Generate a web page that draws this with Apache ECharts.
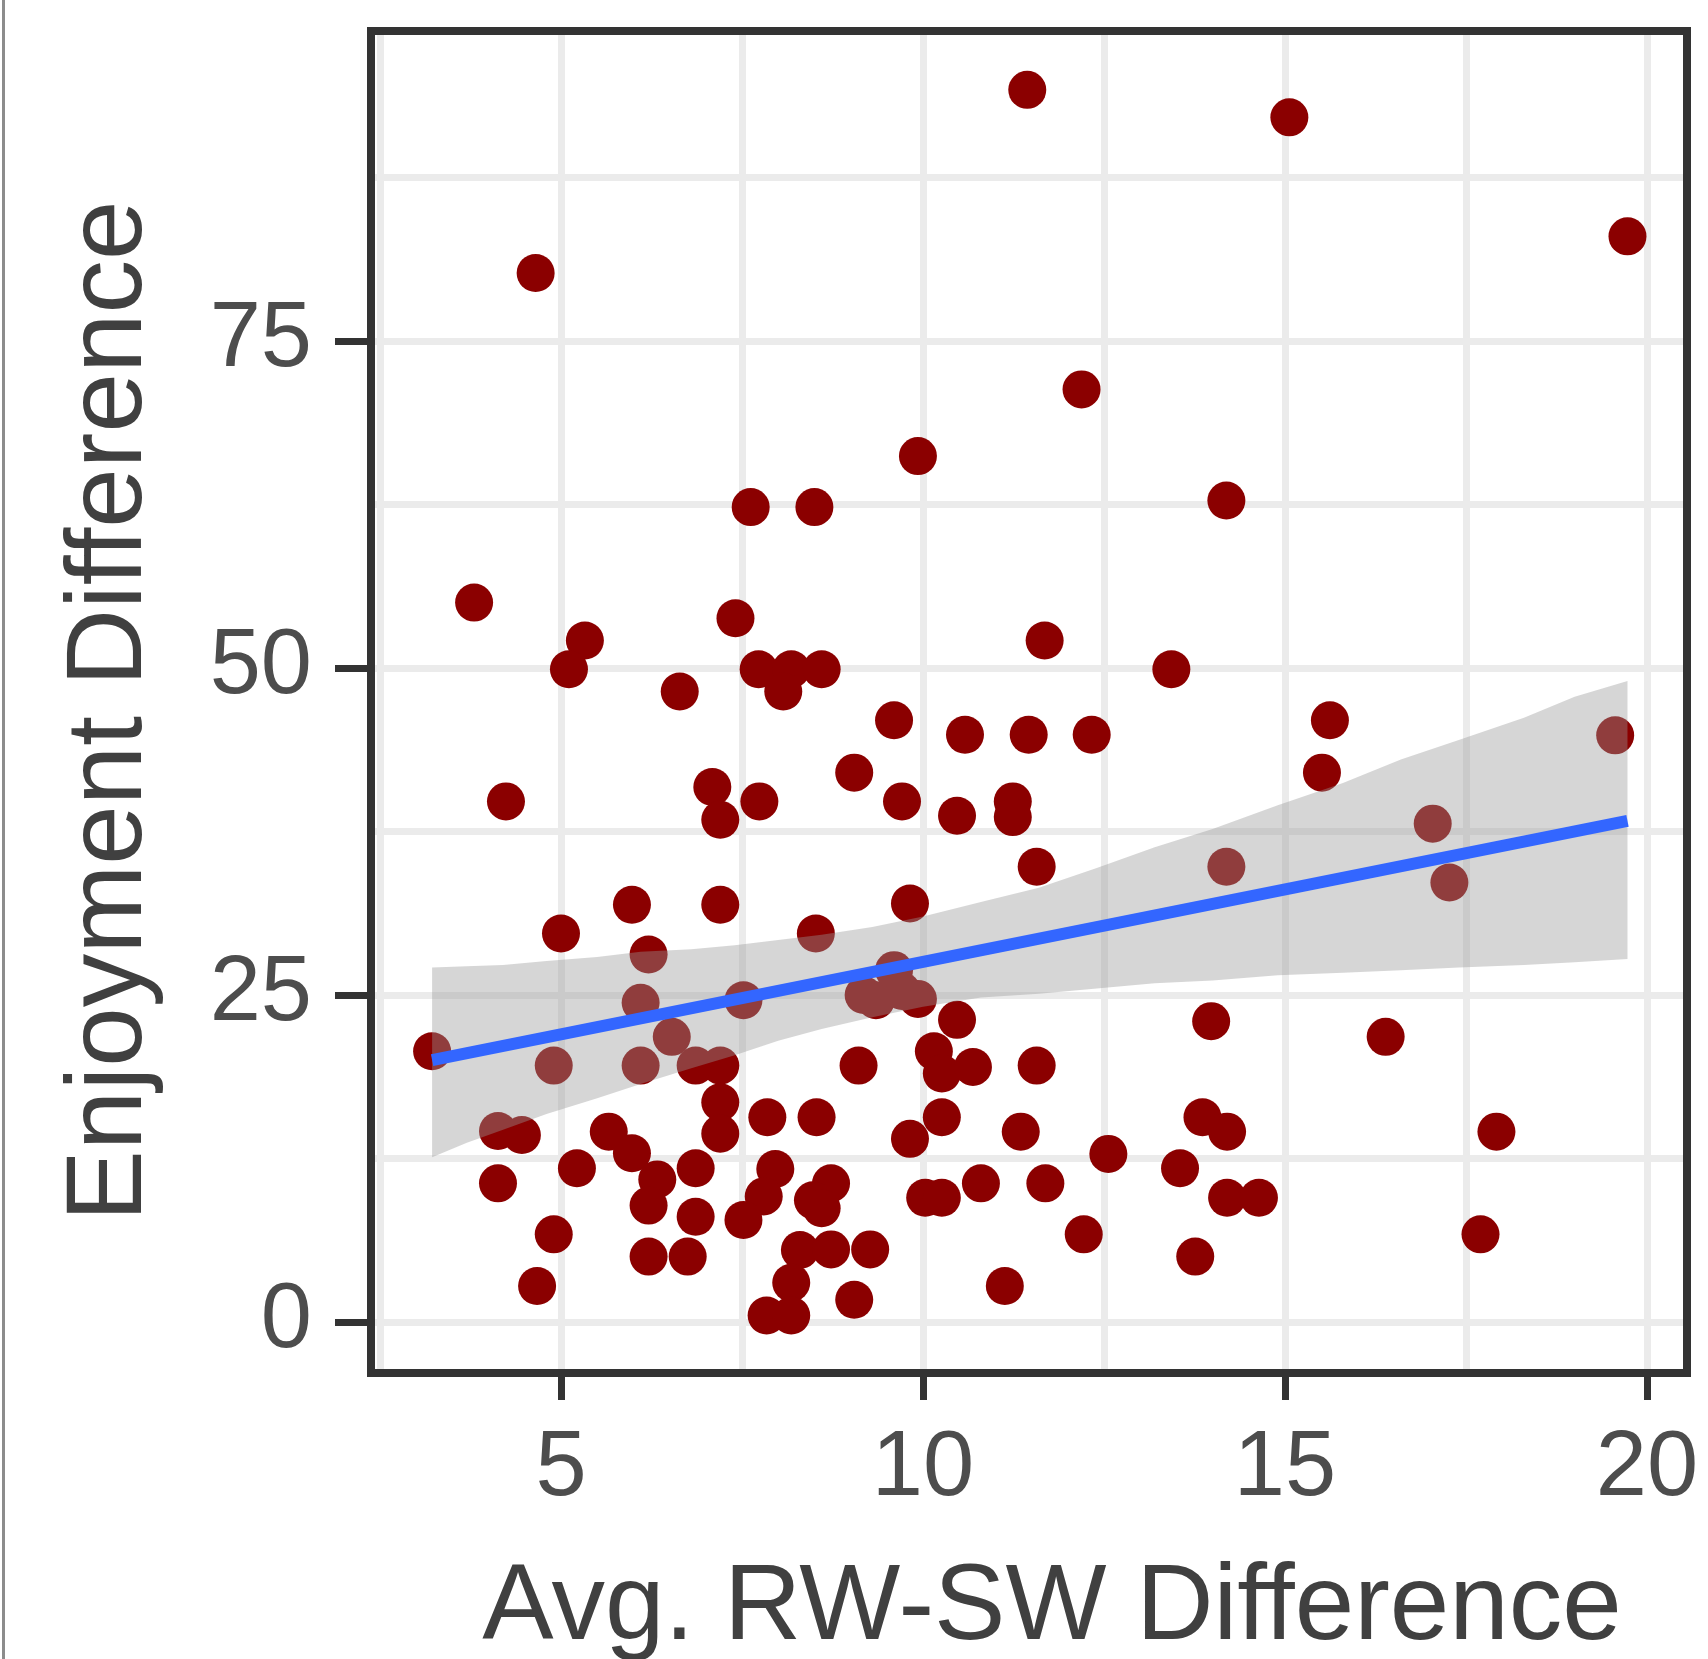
<!DOCTYPE html>
<html>
<head>
<meta charset="utf-8">
<title>Enjoyment vs RW-SW difference</title>
<script src="https://cdn.jsdelivr.net/npm/echarts@6/dist/echarts.min.js"></script>
<style>
  html, body { margin: 0; padding: 0; background: #fff; }
  #main { width: 1708px; height: 1659px; }
</style>
</head>
<body>
<div id="main"></div>
<script>
// scatter points: [avg RW-SW difference, enjoyment difference]
var points = [
  [11.44, 94.2], [15.06, 92.1], [19.73, 83.0], [4.65, 80.2], [12.19, 71.3], [9.93, 66.2],
  [7.62, 62.3], [8.5, 62.3], [14.19, 62.8],
  [3.80, 55.0], [7.41, 53.8], [5.33, 52.1], [5.11, 49.9], [11.68, 52.1], [13.43, 49.9],
  [7.73, 49.9], [8.18, 49.9], [8.07, 48.2], [8.6, 49.9], [6.64, 48.2],
  [9.6, 46.0], [10.58, 44.9], [11.46, 44.9], [12.33, 44.9], [15.62, 46.0], [15.51, 42.0], [19.56, 44.85],
  [9.05, 42.0], [4.24, 39.8], [7.09, 40.9], [7.2, 38.4], [7.74, 39.8], [9.71, 39.8], [10.47, 38.7],
  [11.24, 39.8], [11.24, 38.6],
  [17.04, 38.1], [11.57, 34.8], [14.19, 34.8], [17.27, 33.6],
  [5.98, 31.9], [7.2, 31.9], [9.82, 32.0], [5.0, 29.7], [8.52, 29.7], [6.21, 28.1],
  [9.6, 26.9], [9.71, 25.3], [9.18, 25.0], [9.35, 24.6], [9.93, 24.7],
  [7.52, 24.6], [6.1, 24.4], [10.47, 23.1], [13.98, 23.0], [16.39, 21.8], [3.22, 20.7], [6.53, 21.8],
  [4.9, 19.6], [6.1, 19.6], [6.86, 19.6], [7.2, 19.6], [9.11, 19.6], [10.15, 20.7], [10.26, 19.0],
  [10.69, 19.5], [11.57, 19.6],
  [7.2, 16.8], [7.85, 15.65], [8.53, 15.65], [10.26, 15.65], [13.86, 15.65],
  [4.13, 14.6], [4.46, 14.3], [5.66, 14.55], [7.2, 14.4], [11.35, 14.55], [14.2, 14.55], [17.92, 14.55],
  [9.82, 14.0],
  [5.98, 12.9], [12.56, 12.85], [5.22, 11.75], [6.86, 11.75], [7.96, 11.7], [13.55, 11.75],
  [4.13, 10.6], [6.33, 10.9], [10.8, 10.6], [11.69, 10.6], [8.73, 10.6],
  [6.21, 8.9], [7.8, 9.6], [8.48, 9.3], [8.6, 8.7], [10.03, 9.5], [10.26, 9.5], [14.2, 9.5], [14.64, 9.5],
  [6.86, 8.05], [7.52, 7.8], [4.9, 6.7], [12.22, 6.7], [17.7, 6.7],
  [8.3, 5.5], [8.73, 5.55], [9.27, 5.55], [6.21, 5.0], [6.75, 5.0], [13.76, 5.0],
  [8.18, 3.0], [4.67, 2.75], [11.13, 2.75], [9.05, 1.7], [7.84, 0.5], [8.18, 0.5]
];

// fitted line (lm) end points
var fitX = [3.22, 19.73];
var fitY = [20.02, 38.31];

// confidence band
var bandX =     [3.22, 3.7, 4.2, 4.8, 5.5, 6.1, 6.8, 7.4, 8.0, 8.6, 9.3, 10.0, 10.8, 11.6, 12.4, 13.2, 14.0, 14.9, 15.8, 16.6, 17.4, 18.3, 19.0, 19.73];
var bandLower = [12.6, 13.7, 14.7, 15.9, 17.1, 18.2, 19.4, 20.4, 21.5, 22.4, 23.3, 24.1, 24.8, 25.1, 25.5, 25.9, 26.1, 26.5, 26.7, 26.9, 27.1, 27.3, 27.5, 27.75];
var bandUpper = [27.1, 27.2, 27.3, 27.6, 27.9, 28.3, 28.5, 28.8, 29.2, 29.6, 30.2, 31.0, 32.1, 33.2, 34.7, 36.3, 37.7, 39.5, 41.2, 43.0, 44.5, 46.2, 47.8, 49.0];

// axes
var xTicks = [5, 10, 15, 20];
var yTicks = [0, 25, 50, 75];
var xGrid = [2.5, 5, 7.5, 10, 12.5, 15, 17.5, 20];
var yGrid = [0, 12.5, 25, 37.5, 50, 62.5, 75, 87.5];

var myChart = echarts.init(document.getElementById('main'));

var font = '"Liberation Sans", Arial, Helvetica, sans-serif';

var gridLines = [];
xGrid.forEach(function (v) { gridLines.push({ xAxis: v }); });
yGrid.forEach(function (v) { gridLines.push({ yAxis: v }); });

// band polygon: upper edge left->right, then lower edge right->left
function renderBand(params, api) {
    var pts = [];
    for (var i = 0; i < bandX.length; i++) {
        pts.push(api.coord([bandX[i], bandUpper[i]]));
    }
    for (var j = bandX.length - 1; j >= 0; j--) {
        pts.push(api.coord([bandX[j], bandLower[j]]));
    }
    return {
        type: 'polygon',
        shape: { points: pts },
        style: { fill: 'rgba(153,153,153,0.4)', stroke: null },
        silent: true
    };
}

var option = {
    animation: false,
    grid: {
        left: 371, right: 21, top: 31, bottom: 286,
        outerBoundsMode: 'none',
        containLabel: false,
        show: true,
        z: 10,
        backgroundColor: 'transparent',
        borderColor: '#333333',
        borderWidth: 8
    },
    graphic: [{
        type: 'rect',
        shape: { x: 2, y: 0, width: 3, height: 1659 },
        style: { fill: '#8c8c8c' }
    }],
    xAxis: {
        type: 'value',
        min: 2.376,
        max: 20.552,
        name: 'Avg. RW-SW Difference',
        nameLocation: 'middle',
        nameGap: 183,
        nameTextStyle: { fontSize: 107, color: '#404040', fontFamily: font, padding: [0, 0, 0, 46] },
        axisLine: { show: false, onZero: false },
        axisTick: { show: true, customValues: xTicks, length: 27, lineStyle: { color: '#333333', width: 7 } },
        axisLabel: { customValues: xTicks, fontSize: 92, color: '#4d4d4d', fontFamily: font, margin: 51 },
        splitLine: { show: false }
    },
    yAxis: {
        type: 'value',
        min: -3.9,
        max: 98.7,
        name: 'Enjoyment Difference',
        nameLocation: 'middle',
        nameGap: 206,
        nameTextStyle: { fontSize: 107, color: '#404040', fontFamily: font, padding: [0, 18, 0, 0] },
        axisLine: { show: false, onZero: false },
        axisTick: { show: true, customValues: yTicks, length: 36, lineStyle: { color: '#333333', width: 7 } },
        axisLabel: { customValues: yTicks, fontSize: 92, color: '#4d4d4d', fontFamily: font, margin: 59, padding: [15, 0, 0, 0] },
        splitLine: { show: false }
    },
    series: [
        {
            name: 'points',
            type: 'scatter',
            z: 2,
            data: points,
            symbol: 'circle',
            symbolSize: 38,
            itemStyle: { color: '#8b0000', opacity: 1 },
            emphasis: { disabled: true },
            markLine: {
                silent: true,
                z: 1,
                symbol: 'none',
                label: { show: false },
                lineStyle: { color: '#ebebeb', width: 7, type: 'solid' },
                emphasis: { disabled: true },
                data: gridLines
            }
        },
        {
            name: 'ci',
            type: 'custom',
            z: 3,
            silent: true,
            renderItem: renderBand,
            data: [[bandX[0], bandLower[0]]]
        },
        {
            name: 'fit',
            type: 'line',
            z: 4,
            data: fitX.map(function (x, i) { return [x, fitY[i]]; }),
            symbol: 'none',
            lineStyle: { color: '#3366ff', width: 12 },
            silent: true
        }
    ]
};

myChart.setOption(option);
</script>
</body>
</html>
